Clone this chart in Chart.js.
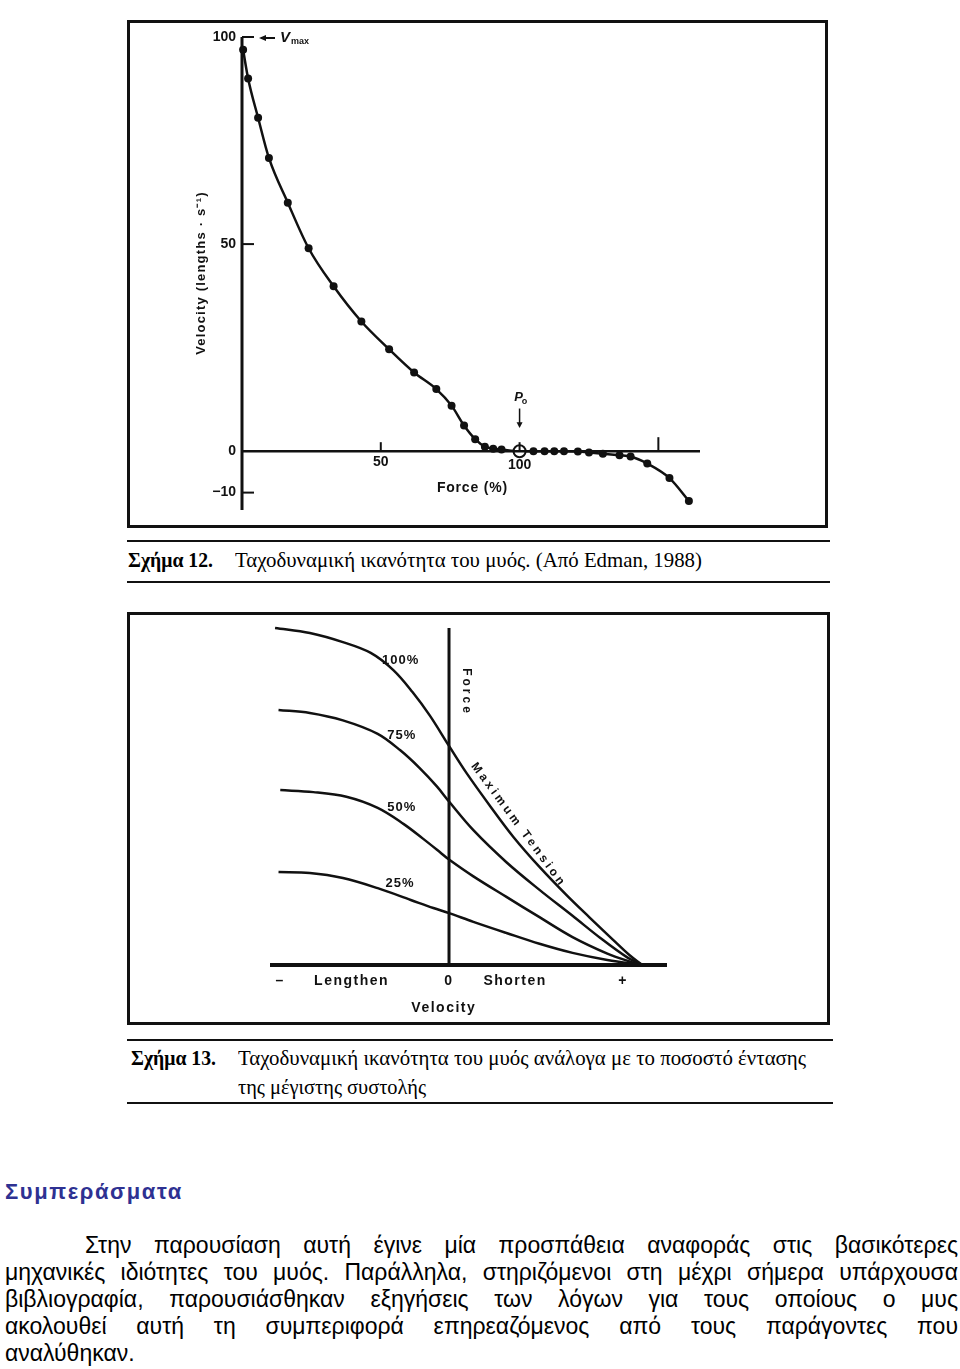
<!DOCTYPE html>
<html lang="el">
<head>
<meta charset="UTF-8" />
<title>Ταχοδυναμική ικανότητα του μυός</title>
<script src="https://cdn.jsdelivr.net/npm/chart.js"></script>
<style>
  body {
    margin: 0;
    width: 960px;
    height: 1369px;
    position: relative;
    overflow: hidden;
    background: #fff;
    color: #000;
    font-family: 'Liberation Sans', Arial, sans-serif;
  }
  .box {
    position: absolute;
    border: 3px solid #111;
    box-sizing: border-box;
  }
  .box canvas { position: absolute; left: 0; top: 0; }
  .rule { position: absolute; height: 2px; background: #111; }
  .cap {
    position: absolute;
    font-family: 'Liberation Serif', 'Times New Roman', serif;
    font-size: 22px;
    line-height: 22px;
    white-space: nowrap;
    transform-origin: left center;
  }
  .cap b { font-weight: bold; }
  h2 {
    position: absolute;
    left: 5px;
    top: 1178px;
    margin: 0;
    font-size: 22px;
    line-height: 28px;
    letter-spacing: 1.6px;
    color: #2e3192;
  }
  .ln {
    position: absolute;
    font-size: 23px;
    line-height: 27px;
    height: 27px;
    white-space: nowrap;
    text-align: justify;
    text-align-last: justify;
  }
</style>
</head>
<body>
  <div class="box" style="left:127px; top:20px; width:701px; height:508px;">
    <canvas id="fv" width="695" height="502"></canvas>
  </div>
  <div class="rule" style="left:127px; top:540px; width:703px;"></div>
  <div class="cap" data-w="85" style="left:128px; top:549px;"><b>Σχήμα 12.</b></div>
  <div class="cap" data-w="467" style="left:235px; top:549px;">Ταχοδυναμική ικανότητα του μυός. (Από Edman, 1988)</div>
  <div class="rule" style="left:127px; top:581px; width:703px;"></div>

  <div class="box" style="left:127px; top:612px; width:703px; height:413px;">
    <canvas id="pct" width="697" height="407"></canvas>
  </div>
  <div class="rule" style="left:127px; top:1039px; width:706px;"></div>
  <div class="cap" data-w="85" style="left:131px; top:1047px;"><b>Σχήμα 13.</b></div>
  <div class="cap" data-w="568" style="left:238px; top:1047px;">Ταχοδυναμική ικανότητα του μυός ανάλογα με το ποσοστό έντασης</div>
  <div class="cap" data-w="188" style="left:238px; top:1076px;">της μέγιστης συστολής</div>
  <div class="rule" style="left:127px; top:1102px; width:706px;"></div>

  <h2>Συμπεράσματα</h2>
  <div class="ln" style="left:85px; width:873px; top:1232px;">Στην παρουσίαση αυτή έγινε μία προσπάθεια αναφοράς στις βασικότερες</div>
  <div class="ln" style="left:5px; width:953px; top:1259px;">μηχανικές ιδιότητες του μυός. Παράλληλα, στηριζόμενοι στη μέχρι σήμερα υπάρχουσα</div>
  <div class="ln" style="left:5px; width:953px; top:1286px;">βιβλιογραφία, παρουσιάσθηκαν εξηγήσεις των λόγων για τους οποίους ο μυς</div>
  <div class="ln" style="left:5px; width:953px; top:1313px;">ακολουθεί αυτή τη συμπεριφορά επηρεαζόμενος από τους παράγοντες που</div>
  <div class="ln" style="left:5px; width:953px; top:1340px; text-align-last:left;">αναλύθηκαν.</div>

<script>
  // Σχήμα 12: force (%) vs velocity (lengths/s), Edman 1988
  const force = [0.4, 2.2, 5.8, 9.7, 16.5, 24, 33, 43, 53, 62, 70, 75.5, 80, 84, 87.5, 90.5, 93.5,
                 100, 105, 109, 112.5, 116, 121, 125, 130, 136, 140, 146, 154, 161];
  const velocity = [96.9, 90, 80.5, 70.8, 60, 49, 39.8, 31.3, 24.6, 19, 15, 11, 6.2, 2.9, 1.1, 0.6, 0.4,
                    0, 0, 0, 0, 0, -0.1, -0.3, -0.6, -1, -1.3, -3, -6.5, -12];
  const p0Force = [100];
  const p0Velocity = [0];
  const yTicks1 = [100, 50, 0, -10];
  const xTicks1 = [50, 100, 150];

  // Σχήμα 13: force-velocity curves at % of maximum tension
  const levels = ['100%', '75%', '50%', '25%'];
  const vel100 = [-1.0, -0.8, -0.61, -0.45, -0.32, -0.21, -0.11, 0, 0.1, 0.24, 0.37, 0.52, 0.68, 0.81, 0.94, 1.04, 1.11];
  const frc100 = [100, 98.5, 95.8, 92.6, 87.5, 81, 74, 65, 57, 46.9, 38, 29.1, 20.5, 14, 7.6, 2.8, 0];
  const vel75 = [-0.98, -0.8, -0.61, -0.41, -0.28, -0.17, -0.07, 0, 0.14, 0.33, 0.52, 0.71, 0.87, 1.02, 1.11];
  const frc75 = [75.7, 74.8, 72.6, 68.6, 63.7, 58.5, 53, 48.5, 40, 30.5, 22.3, 14.6, 8, 2.4, 0];
  const vel50 = [-0.97, -0.78, -0.59, -0.41, -0.26, -0.15, -0.05, 0, 0.14, 0.33, 0.52, 0.71, 0.91, 1.04, 1.11];
  const frc50 = [51.9, 51.3, 49.9, 46.6, 41.8, 37.5, 33.4, 31.3, 26.3, 20.2, 14.2, 8.3, 3.4, 1.0, 0];
  const vel25 = [-0.98, -0.8, -0.61, -0.41, -0.22, -0.09, 0, 0.14, 0.33, 0.52, 0.71, 0.91, 1.11];
  const frc25 = [27.6, 27.3, 25.8, 22.8, 19.3, 16.9, 15.4, 12.8, 9.5, 6.3, 3.6, 1.5, 0];
  const velTicks = [-0.97, -0.56, 0, 0.38, 1.0];
  const velTickLabels = ['–', 'Lengthen', '0', 'Shorten', '+'];

  const pairs = (xs, ys) => xs.map((x, i) => ({ x: x, y: ys[i] }));

  // label placement for fig 13 (in data units)
  const levelLabelPos = [[-0.385, 90.5], [-0.355, 68.2], [-0.355, 46.9], [-0.365, 24.3]];

  const bold = (px) => 'bold ' + px + 'px "Liberation Sans", Arial, sans-serif';

  const fvAxes = {
    id: 'fvAxes',
    afterDatasetsDraw(chart) {
      const { ctx, scales: { x, y } } = chart;
      const x0 = x.getPixelForValue(0);
      const y0 = y.getPixelForValue(0);
      ctx.save();
      ctx.strokeStyle = '#111';
      ctx.fillStyle = '#111';
      ctx.lineWidth = 3;
      ctx.beginPath();
      ctx.moveTo(x0, y.getPixelForValue(100));
      ctx.lineTo(x0, chart.chartArea.bottom);
      ctx.stroke();
      ctx.lineWidth = 2.5;
      ctx.beginPath();
      ctx.moveTo(x0, y0);
      ctx.lineTo(x.getPixelForValue(165), y0);
      ctx.stroke();

      // inward ticks
      ctx.lineWidth = 2;
      yTicks1.filter(v => v !== 0).forEach(v => {
        const py = y.getPixelForValue(v);
        ctx.beginPath(); ctx.moveTo(x0, py); ctx.lineTo(x0 + 12, py); ctx.stroke();
      });
      xTicks1.forEach(v => {
        const px = x.getPixelForValue(v);
        ctx.beginPath(); ctx.moveTo(px, y0); ctx.lineTo(px, y0 - (v === 150 ? 14 : 9)); ctx.stroke();
      });

      ctx.font = bold(14);
      ctx.textAlign = 'right';
      ctx.textBaseline = 'middle';
      yTicks1.forEach(v => {
        ctx.fillText(v < 0 ? '\u2212' + Math.abs(v) : String(v), x0 - 6, y.getPixelForValue(v));
      });
      ctx.textAlign = 'center';
      ctx.textBaseline = 'top';
      xTicks1.filter(v => v !== 150).forEach(v => {
        ctx.fillText(String(v), x.getPixelForValue(v), y0 + (v === 100 ? 7 : 4));
      });

      ctx.font = bold(14);
      ctx.letterSpacing = '0.8px';
      ctx.textBaseline = 'middle';
      ctx.fillText('Force (%)', x.getPixelForValue(83), y.getPixelForValue(-9));

      ctx.save();
      ctx.translate(x0 - 41, y.getPixelForValue(43));
      ctx.rotate(-Math.PI / 2);
      ctx.font = bold(13);
      ctx.letterSpacing = '1.2px';
      ctx.fillText('Velocity (lengths \u00b7 s\u207b\u00b9)', 0, 0);
      ctx.restore();
      ctx.letterSpacing = '0px';

      // Vmax arrow
      const vy = y.getPixelForValue(100) + 1;
      ctx.lineWidth = 2;
      ctx.beginPath(); ctx.moveTo(x0 + 19, vy); ctx.lineTo(x0 + 33, vy); ctx.stroke();
      ctx.beginPath(); ctx.moveTo(x0 + 17, vy); ctx.lineTo(x0 + 24, vy - 3); ctx.lineTo(x0 + 24, vy + 3); ctx.closePath(); ctx.fill();
      ctx.textAlign = 'left';
      ctx.font = 'italic ' + bold(15);
      ctx.fillText('V', x0 + 38, vy);
      ctx.font = bold(9);
      ctx.fillText('max', x0 + 49, vy + 4);

      // P0 marker
      const px = x.getPixelForValue(100);
      ctx.font = 'italic ' + bold(13);
      ctx.textAlign = 'center';
      ctx.fillText('P', px - 1, y.getPixelForValue(13));
      ctx.font = bold(9);
      ctx.fillText('o', px + 5, y.getPixelForValue(12));
      ctx.lineWidth = 1.5;
      ctx.beginPath(); ctx.moveTo(px, y.getPixelForValue(10.3)); ctx.lineTo(px, y.getPixelForValue(6.5)); ctx.stroke();
      ctx.beginPath(); ctx.moveTo(px - 3, y.getPixelForValue(7)); ctx.lineTo(px + 3, y.getPixelForValue(7)); ctx.lineTo(px, y.getPixelForValue(5.6)); ctx.closePath(); ctx.fill();
      ctx.restore();
    }
  };

  new Chart(document.getElementById('fv'), {
    type: 'scatter',
    data: {
      datasets: [
        {
          data: pairs(p0Force, p0Velocity),
          pointRadius: 6,
          pointBackgroundColor: '#fff',
          pointBorderColor: '#111',
          pointBorderWidth: 2,
          clip: false,
          order: 0
        },
        {
          data: pairs(force, velocity),
          showLine: true,
          borderColor: '#111',
          borderWidth: 2.5,
          cubicInterpolationMode: 'monotone',
          pointRadius: 4,
          pointBackgroundColor: '#111',
          pointBorderColor: '#111',
          pointBorderWidth: 0,
          clip: false,
          order: 1
        }
      ]
    },
    options: {
      responsive: false,
      animation: false,
      devicePixelRatio: 1,
      layout: { padding: { left: 112, right: 125, top: 14, bottom: 15 } },
      plugins: { legend: { display: false }, tooltip: { enabled: false } },
      scales: {
        x: { type: 'linear', min: 0, max: 165, display: false },
        y: { type: 'linear', min: -14.2, max: 100, display: false }
      }
    },
    plugins: [fvAxes]
  });

  const pctAxes = {
    id: 'pctAxes',
    afterDatasetsDraw(chart) {
      const { ctx, chartArea, scales: { x, y } } = chart;
      const x0 = x.getPixelForValue(0);
      const y0 = y.getPixelForValue(0);
      ctx.save();
      ctx.strokeStyle = '#111';
      ctx.fillStyle = '#111';
      ctx.lineWidth = 3;
      ctx.beginPath();
      ctx.moveTo(x0, y.getPixelForValue(100));
      ctx.lineTo(x0, y0);
      ctx.stroke();
      ctx.lineWidth = 4;
      ctx.beginPath();
      ctx.moveTo(chartArea.left, y0);
      ctx.lineTo(chartArea.right, y0);
      ctx.stroke();

      ctx.textBaseline = 'middle';
      ctx.textAlign = 'center';
      ctx.font = bold(14);
      ctx.letterSpacing = '1.5px';
      velTicks.forEach((v, i) => {
        ctx.fillText(velTickLabels[i], x.getPixelForValue(v), y0 + 16);
      });
      ctx.fillText('Velocity', x.getPixelForValue(-0.03), y0 + 43);

      ctx.font = bold(13);
      ctx.letterSpacing = '1px';
      ctx.textAlign = 'left';
      levels.forEach((t, i) => {
        ctx.fillText(t, x.getPixelForValue(levelLabelPos[i][0]), y.getPixelForValue(levelLabelPos[i][1]));
      });

      ctx.save();
      ctx.translate(x.getPixelForValue(0.1), y.getPixelForValue(81));
      ctx.rotate(Math.PI / 2);
      ctx.textAlign = 'center';
      ctx.font = bold(12);
      ctx.letterSpacing = '3px';
      ctx.fillText('Force', 0, 0);
      ctx.restore();

      ctx.save();
      ctx.translate(x.getPixelForValue(0.4), y.getPixelForValue(41.5));
      ctx.rotate(Math.atan2(130, 96));
      ctx.textAlign = 'center';
      ctx.font = bold(12);
      ctx.letterSpacing = '3.2px';
      ctx.fillText('Maximum Tension', 0, 0);
      ctx.restore();
      ctx.restore();
    }
  };

  const curve = (xs, ys) => ({
    data: pairs(xs, ys),
    showLine: true,
    borderColor: '#111',
    borderWidth: 2.5,
    tension: 0.35,
    pointRadius: 0,
    clip: false
  });

  new Chart(document.getElementById('pct'), {
    type: 'scatter',
    data: {
      datasets: [curve(vel100, frc100), curve(vel75, frc75), curve(vel50, frc50), curve(vel25, frc25)]
    },
    options: {
      responsive: false,
      animation: false,
      devicePixelRatio: 1,
      layout: { padding: { left: 140, right: 160, top: 13, bottom: 57 } },
      plugins: { legend: { display: false }, tooltip: { enabled: false } },
      scales: {
        x: { type: 'linear', min: -1.029, max: 1.253, display: false },
        y: { type: 'linear', min: 0, max: 100, display: false }
      }
    },
    plugins: [pctAxes]
  });

  // squeeze the serif captions to the widths of the scanned page
  document.querySelectorAll('.cap').forEach(el => {
    const w = el.getBoundingClientRect().width;
    el.style.transform = 'scaleX(' + (Number(el.dataset.w) / w) + ')';
  });
  // shrink a paragraph line if it would overflow its justified box
  document.querySelectorAll('.ln').forEach(el => {
    let size = 23;
    while (el.scrollWidth > el.clientWidth + 1 && size > 16) {
      size -= 0.25;
      el.style.fontSize = size + 'px';
    }
  });
</script>
</body>
</html>
